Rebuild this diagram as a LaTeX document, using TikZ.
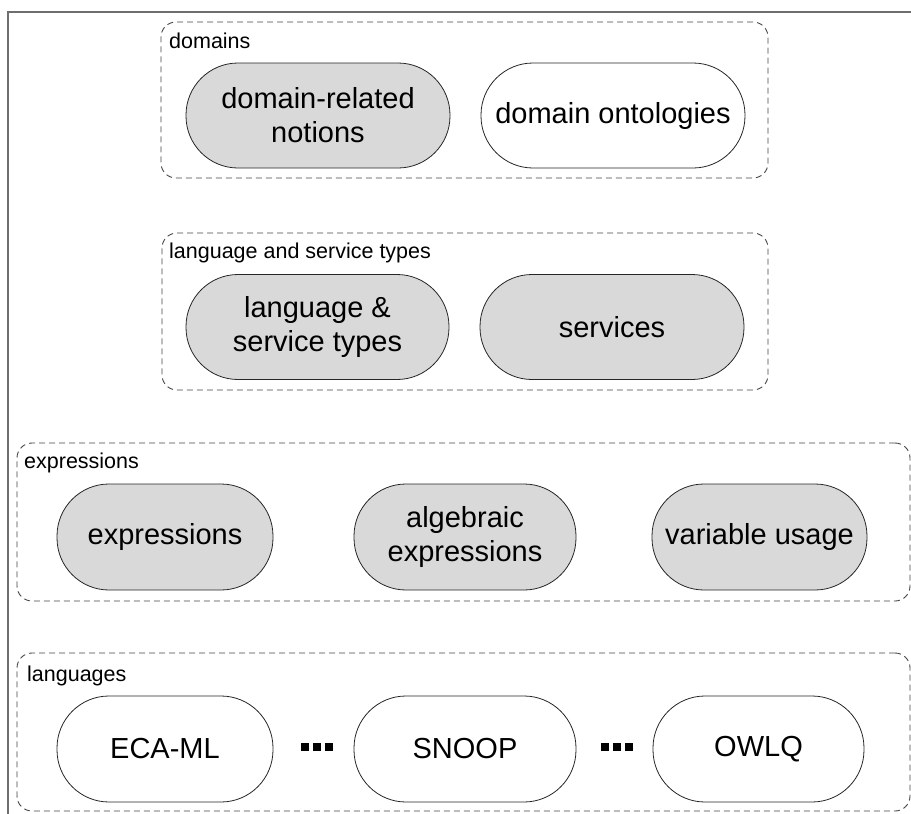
\documentclass[tikz,border=0pt]{standalone}
\usepackage{fontspec}
\setmainfont{Liberation Sans}
\definecolor{pillgray}{HTML}{D9D9D9}
\definecolor{framegray}{HTML}{6E6E6E}
\definecolor{dashgray}{HTML}{444444}
\begin{document}
\begin{tikzpicture}[x=1pt,y=-1pt,
  pill/.style={draw=black!85, line width=0.8pt, rounded corners=52pt, inner sep=0pt,
    align=center, font=\fontsize{29}{34}\selectfont},
  shaded/.style={pill, fill=pillgray},
  plain/.style={pill, fill=white},
  groupbox/.style={draw=dashgray, dash pattern=on 6pt off 4pt, line width=0.9pt,
    rounded corners=15pt, inner sep=0pt},
  grouplabel/.style={anchor=base west, inner sep=0pt, font=\fontsize{21.5}{25}\selectfont},
  dotsq/.style={fill=black, inner sep=0pt, minimum size=8pt}
]
\useasboundingbox (0,0) rectangle (911,814);

% outer frame (top and left edges)
\draw[framegray, line width=1.2pt] (911,12) -- (8,12) -- (8,814);

% group containers
\node[groupbox, minimum width=607pt, minimum height=156pt] (gDomains) at (464.5,100) {};
\node[groupbox, minimum width=606pt, minimum height=157pt] (gTypes) at (465,311.5) {};
\node[groupbox, minimum width=893pt, minimum height=158pt] (gExpr) at (463.5,522) {};
\node[groupbox, minimum width=893pt, minimum height=158pt] (gLangs) at (463.5,732) {};

% group labels
\node[grouplabel] (lDomains) at (169,48) {domains};
\node[grouplabel] (lTypes) at (169,258) {language and service types};
\node[grouplabel] (lExpr) at (24,468) {expressions};
\node[grouplabel] (lLangs) at (27,681) {languages};

% domains
\node[shaded, minimum width=264pt, minimum height=105pt] (notions) at (318,115.5) {domain-related\\notions};
\node[plain, minimum width=264pt, minimum height=105pt] (ontologies) at (613,115.5) {domain ontologies};

% language and service types
\node[shaded, minimum width=263pt, minimum height=105pt] (lstypes) at (317.5,327) {language \&\\service types};
\node[shaded, minimum width=264pt, minimum height=105pt] (services) at (612,327) {services};

% expressions
\node[shaded, minimum width=216pt, minimum height=106pt] (expr) at (165,537) {expressions};
\node[shaded, minimum width=222pt, minimum height=106pt] (algebraic) at (465,537) {algebraic\\expressions};
\node[shaded, minimum width=215pt, minimum height=106pt] (varusage) at (759.5,537) {variable usage};

% languages
\node[plain, minimum width=216pt, minimum height=106pt] (ecaml) at (165,749) {ECA-ML};
\node[plain, minimum width=222pt, minimum height=106pt] (snoop) at (465,749) {SNOOP};
\node[plain, minimum width=211pt, minimum height=106pt] (owlq) at (758.5,749) {OWLQ};

% ellipsis marks between languages
\foreach \x [count=\i] in {305,317,329} {
  \node[dotsq] (dA\i) at (\x,747) {};
}
\foreach \x [count=\i] in {605,617,629} {
  \node[dotsq] (dB\i) at (\x,747) {};
}
\end{tikzpicture}
\end{document}
